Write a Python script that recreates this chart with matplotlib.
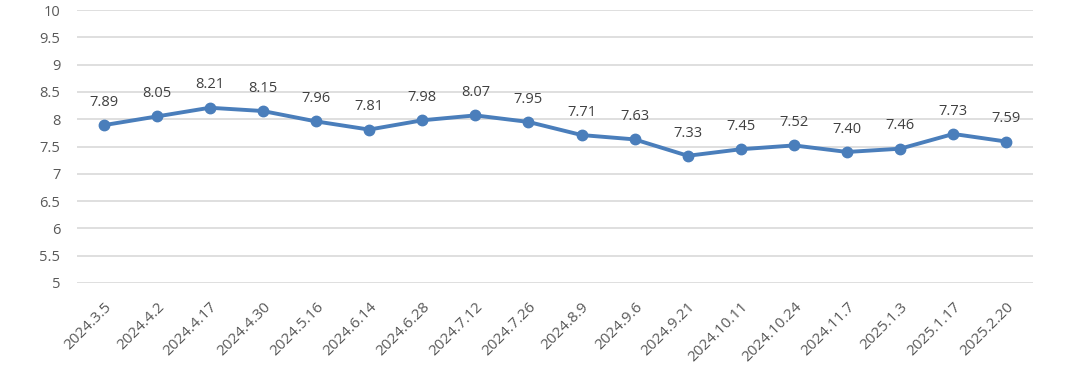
import matplotlib
matplotlib.use("Agg")
import matplotlib.pyplot as plt
from matplotlib.transforms import ScaledTranslation

dates = ["2024.3.5", "2024.4.2", "2024.4.17", "2024.4.30", "2024.5.16", "2024.6.14",
         "2024.6.28", "2024.7.12", "2024.7.26", "2024.8.9", "2024.9.6", "2024.9.21",
         "2024.10.11", "2024.10.24", "2024.11.7", "2025.1.3", "2025.1.17", "2025.2.20"]
values = [7.89, 8.05, 8.21, 8.15, 7.96, 7.81, 7.98, 8.07, 7.95, 7.71, 7.63, 7.33,
          7.45, 7.52, 7.40, 7.46, 7.73, 7.59]
yticks = [5, 5.5, 6, 6.5, 7, 7.5, 8, 8.5, 9, 9.5, 10]
ytick_labels = ["5", "5.5", "6", "6.5", "7", "7.5", "8", "8.5", "9", "9.5", "10"]

plt.rcParams['font.family'] = ['Open Sans', 'DejaVu Sans']
fig = plt.figure(figsize=(10.8, 3.71), dpi=100)
ax = fig.add_axes([0.0713, 0.2372, 0.8852, 0.7358])

x = list(range(len(dates)))
line_color = "#4A7EBB"
ax.plot(x, values, color=line_color, lw=2.8, marker='o', markersize=7.5,
        markerfacecolor=line_color, markeredgecolor=line_color, zorder=3)

for xi, v in zip(x, values):
    ax.annotate(f"{v:.2f}", (xi, v), xytext=(0, 11), textcoords='offset points',
                ha='center', va='bottom', fontsize=10.5, color='#404040')

ax.set_xlim(-0.5, len(dates) - 0.5)
ax.set_ylim(5, 10)
ax.set_yticks(yticks)
ax.set_yticklabels(ytick_labels)
ax.set_xticks(x)
ax.set_xticklabels(dates, rotation=45, ha='right', rotation_mode='anchor', fontsize=11)
offset = ScaledTranslation(0.1, 0.0, fig.dpi_scale_trans)
for lbl in ax.get_xticklabels():
    lbl.set_transform(lbl.get_transform() + offset)

ax.grid(axis='y', color='#D9D9D9', lw=1.2)
ax.set_axisbelow(True)
for s in ax.spines.values():
    s.set_visible(False)
ax.tick_params(axis='both', length=0, colors='#595959')
ax.tick_params(axis='y', pad=12, labelsize=10.5)
ax.tick_params(axis='x', pad=12)

fig.savefig("out.png", dpi=100)
